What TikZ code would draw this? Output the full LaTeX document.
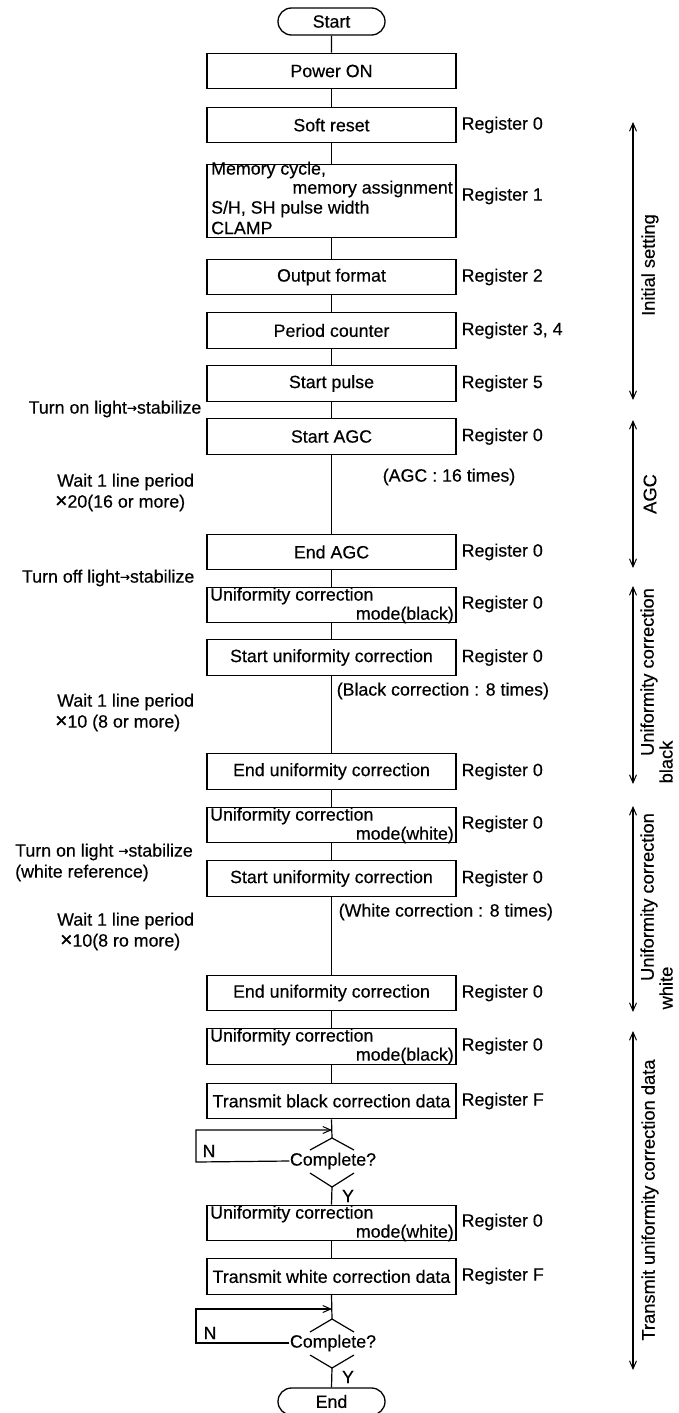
\documentclass[tikz,border=0pt]{standalone}
\usepackage{fontspec}
\setmainfont{Liberation Sans}[BoldFont={Liberation Sans}, BoldFeatures={FakeBold=0.35}]
\newfontfamily\arrowfont{DejaVu Sans}[BoldFont={DejaVu Sans}, BoldFeatures={FakeBold=0.35}]
\newcommand\myarrow{\raisebox{1.5pt}{\arrowfont\fontsize{12}{19}\selectfont →}}
\newcommand\mytimes{\smash{\fontsize{21}{19}\selectfont ×}}
\usetikzlibrary{shapes.misc,arrows.meta}
\begin{document}
\begin{tikzpicture}[x=1pt,y=-1pt,
  every node/.style={font=\fontsize{17.8}{19}\selectfont\bfseries, inner sep=0.5pt},
  box/.style={draw, line width=1.3pt, minimum width=249pt, minimum height=35.5pt, inner sep=0pt},
  term/.style={draw, rounded rectangle, line width=1.3pt, minimum width=107pt, minimum height=27pt, inner sep=0pt},
  reg/.style={anchor=west},
  note/.style={inner sep=0pt},
  ln/.style={line width=1.2pt},
  barb/.style={-{Straight Barb[length=8pt,width=7pt,line width=1pt]}},
  dbl/.style={line width=1.3pt, {Straight Barb[length=8pt,width=7pt,line width=1pt]}-{Straight Barb[length=8pt,width=7pt,line width=1pt]}},
  side/.style={rotate=90, anchor=center, font=\fontsize{18.3}{19}\selectfont\bfseries},
]
\useasboundingbox (0,0) rectangle (678,1413);
\fill[white] (0,0) rectangle (678,1413);

% ---------- main column ----------
\node[term] (start) at (331.5,21.5) {Start};
\node[box] (power) at (331.5,71) {Power ON};
\node[box] (reset) at (331.5,125) {Soft reset};
\node[box, minimum height=73pt] (mem) at (331.5,201) {};
\node[anchor=west,note] (m1) at (211,170) {Memory cycle,};
\node[anchor=east,note] (m2) at (453,189) {memory assignment};
\node[anchor=west,note] (m3) at (211,209) {S/H, SH pulse width};
\node[anchor=west,note] (m4) at (211,228) {CLAMP};
\node[box] (outfmt) at (331.5,277) {Output format};
\node[box] (period) at (331.5,330.5) {Period counter};
\node[box] (spulse) at (331.5,383.5) {Start pulse};
\node[box] (sagc) at (331.5,436.5) {Start AGC};
\node[box] (eagc) at (331.5,552) {End AGC};
\node[box] (ucba) at (331.5,605) {};
\node[anchor=west,note] (ucba1) at (210,596) {Uniformity correction};
\node[anchor=east,note] (ucba2) at (454,615) {mode(black)};
\node[box] (suca) at (331.5,657.5) {Start uniformity correction};
\node[box] (euca) at (331.5,771.5) {End uniformity correction};
\node[box] (ucwa) at (331.5,825) {};
\node[anchor=west,note] (ucwa1) at (210,816) {Uniformity correction};
\node[anchor=east,note] (ucwa2) at (454,835) {mode(white)};
\node[box] (sucb) at (331.5,878.5) {Start uniformity correction};
\node[box] (eucb) at (331.5,993) {End uniformity correction};
\node[box] (ucbb) at (331.5,1046.5) {};
\node[anchor=west,note] (ucbb1) at (210,1037) {Uniformity correction};
\node[anchor=east,note] (ucbb2) at (454,1056) {mode(black)};
\node[box] (tb) at (331.5,1101) {Transmit black correction data};
\node[box] (ucwb) at (331.5,1223) {};
\node[anchor=west,note] (ucwb1) at (210,1214) {Uniformity correction};
\node[anchor=east,note] (ucwb2) at (454,1233) {mode(white)};
\node[box] (tw) at (331.5,1276.5) {Transmit white correction data};
\node[term] (end) at (331.5,1401.5) {End};

% ---------- decision 1 ----------
\node (ca) at (333,1161) {Complete?};
\coordinate (catop) at (332,1138);
\coordinate (cabot) at (332,1187);
\coordinate (cain) at (332,1130);
\coordinate (caleft) at (196,1162);
\draw[ln] (310,1150) -- (catop) -- (354,1150);
\draw[ln] (310,1173) -- (cabot) -- (354,1173);
\node (na) at (209,1151) {N};
\node (ya) at (348,1196) {Y};

% ---------- decision 2 ----------
\node (cb) at (333,1343) {Complete?};
\coordinate (cbtop) at (332,1319);
\coordinate (cbbot) at (332,1368);
\coordinate (cbin) at (332,1309);
\coordinate (cbleft) at (196,1343);
\draw[ln] (310,1332) -- (cbtop) -- (354,1332);
\draw[ln] (310,1355) -- (cbbot) -- (354,1355);
\node (nb) at (210,1333) {N};
\node (yb) at (348,1377) {Y};

% ---------- connectors ----------
\draw[ln] (start) -- (power);
\draw[ln] (power) -- (reset);
\draw[ln] (reset) -- (mem);
\draw[ln] (mem) -- (outfmt);
\draw[ln] (outfmt) -- (period);
\draw[ln] (period) -- (spulse);
\draw[ln] (spulse) -- (sagc);
\draw[ln] (sagc) -- (eagc);
\draw[ln] (eagc) -- (ucba);
\draw[ln] (ucba) -- (suca);
\draw[ln] (suca) -- (euca);
\draw[ln] (euca) -- (ucwa);
\draw[ln] (ucwa) -- (sucb);
\draw[ln] (sucb) -- (eucb);
\draw[ln] (eucb) -- (ucbb);
\draw[ln] (ucbb) -- (tb);
\draw[ln] (tb.south) -- (catop);
\draw[ln] (cabot) -- (ucwb.north);
\draw[ln] (ucwb) -- (tw);
\draw[ln] (tw.south) -- (cbtop);
\draw[ln] (cbbot) -- (end.north);
\draw[ln,barb] (ca.west) -- (caleft) |- (cain);
\draw[ln,barb] (cb.west) -- (cbleft) |- (cbin);

% ---------- register labels ----------
\node[reg] (r1) at (461,125) {Register 0};
\node[reg] (r2) at (461,196) {Register 1};
\node[reg] (r3) at (461,277) {Register 2};
\node[reg] (r4) at (461,330.5) {Register 3, 4};
\node[reg] (r5) at (461,383.5) {Register 5};
\node[reg] (r6) at (461,436.5) {Register 0};
\node[reg] (r7) at (461,552) {Register 0};
\node[reg] (r8) at (461,604) {Register 0};
\node[reg] (r9) at (461,657.5) {Register 0};
\node[reg] (r10) at (461,771.5) {Register 0};
\node[reg] (r11) at (461,824) {Register 0};
\node[reg] (r12) at (461,878.5) {Register 0};
\node[reg] (r13) at (461,993) {Register 0};
\node[reg] (r14) at (461,1046) {Register 0};
\node[reg] (r15) at (461,1101) {Register F};
\node[reg] (r16) at (461,1222) {Register 0};
\node[reg] (r17) at (461,1276) {Register F};

% ---------- middle notes ----------
\node[anchor=east] (agcn) at (516,477) {(AGC : 16 times)};
\node[anchor=west] (bcn) at (336,691) {(Black correction : 8 times)};
\node[anchor=west] (wcn) at (338,912) {(White correction : 8 times)};

% ---------- left notes ----------
\node[anchor=east] (l1) at (202,409) {Turn on light\myarrow stabilize};
\node[anchor=west,note] (l2) at (57,482) {Wait 1 line period};
\node[anchor=west,note] (l3) at (55,503) {\mytimes 20(16 or more)};
\node[anchor=east] (l4) at (195,578) {Turn off light\myarrow stabilize};
\node[anchor=west,note] (l5) at (57,702) {Wait 1 line period};
\node[anchor=west,note] (l6) at (55,723) {\mytimes 10 (8 or more)};
\node[anchor=west,note] (l7) at (15,852) {Turn on light \myarrow stabilize};
\node[anchor=west,note] (l8) at (15,873) {(white reference)};
\node[anchor=west,note] (l9) at (57,921) {Wait 1 line period};
\node[anchor=west,note] (l10) at (60,942) {\mytimes 10(8 ro more)};

% ---------- right phase arrows ----------
\coordinate (a1t) at (633,122);  \coordinate (a1b) at (633,400);
\coordinate (a2t) at (633,420);  \coordinate (a2b) at (633,568);
\coordinate (a3t) at (633,586);  \coordinate (a3b) at (633,784);
\coordinate (a4t) at (633,806);  \coordinate (a4b) at (633,1012);
\coordinate (a5t) at (633,1031); \coordinate (a5b) at (633,1370);
\draw[dbl] (a1t) -- (a1b);
\draw[dbl] (a2t) -- (a2b);
\draw[dbl] (a3t) -- (a3b);
\draw[dbl] (a4t) -- (a4b);
\draw[dbl] (a5t) -- (a5b);
\node[side] (s1) at (650,265) {Initial setting};
\node[side] (s2) at (650,494) {AGC};
\node[side] (s3a) at (649,672) {Uniformity correction};
\node[side] (s3b) at (666,762) {black};
\node[side] (s4a) at (649,897) {Uniformity correction};
\node[side] (s4b) at (666,988) {white};
\node[side] (s5) at (650,1200) {Transmit uniformity correction data};
\end{tikzpicture}
\end{document}
